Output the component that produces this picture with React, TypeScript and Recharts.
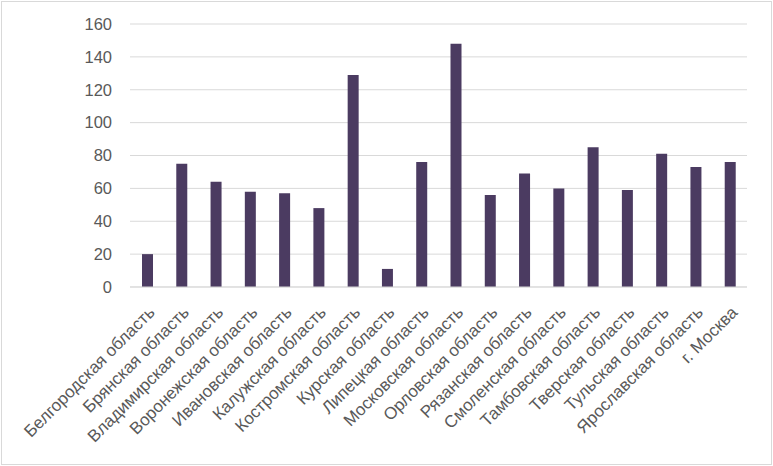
import React from "react";
import { BarChart, Bar, XAxis, YAxis, CartesianGrid } from "recharts";

const regions = [
  "Белгородская область",
  "Брянская область",
  "Владимирская область",
  "Воронежская область",
  "Ивановская область",
  "Калужская область",
  "Костромская область",
  "Курская область",
  "Липецкая область",
  "Московская область",
  "Орловская область",
  "Рязанская область",
  "Смоленская область",
  "Тамбовская область",
  "Тверская область",
  "Тульская область",
  "Ярославская область",
  "г. Москва",
];

const values = [20, 75, 64, 58, 57, 48, 129, 11, 76, 148, 56, 69, 60, 85, 59, 81, 73, 76];

const yTicks = [0, 20, 40, 60, 80, 100, 120, 140, 160];

const data = regions.map((name, i) => ({ name, value: values[i] }));

const textColor = "#595959";
const font = "'Liberation Sans', Arial, sans-serif";

export default function App() {
  return (
    <div
      style={{
        position: "fixed",
        top: 0,
        left: 0,
        width: 773,
        height: 466,
        background: "#fff",
        fontFamily: font,
      }}
    >
      <div
        style={{
          position: "absolute",
          left: 1,
          top: 1,
          width: 769,
          height: 462,
          border: "1px solid #d9d9d9",
        }}
      />
      <BarChart
        width={773}
        height={466}
        data={data}
        margin={{ top: 24, right: 26, left: 0, bottom: 0 }}
        barCategoryGap="34%"
      >
        <CartesianGrid vertical={false} stroke="#d9d9d9" strokeWidth={1} />
        <XAxis
          dataKey="name"
          axisLine={{ stroke: "#d9d9d9" }}
          tickLine={false}
          interval={0}
          angle={-45}
          textAnchor="end"
          height={179}
          tickSize={0}
          tickMargin={18}
          tick={{ fill: textColor, fontSize: 17, fontFamily: font }}
        />
        <YAxis
          domain={[0, 160]}
          ticks={yTicks}
          axisLine={false}
          tickLine={false}
          tickSize={0}
          tickMargin={18}
          width={130}
          tick={{ fill: textColor, fontSize: 16.5, fontFamily: font }}
        />
        <Bar dataKey="value" fill="#4b3b61" barSize={11} isAnimationActive={false} />
      </BarChart>
    </div>
  );
}
